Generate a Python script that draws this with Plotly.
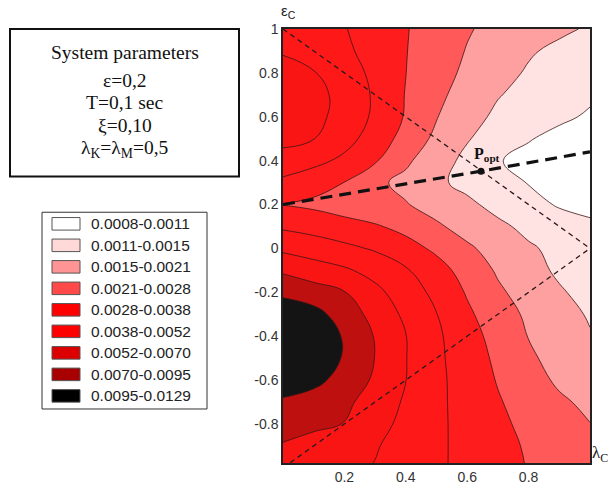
import numpy as np
import plotly.graph_objects as go

# ---------------- data ----------------
lam_c = [0.0, 0.1, 0.2, 0.3, 0.4, 0.5, 0.6, 0.7, 0.8, 0.9, 1.0]
eps_c_top_down = [1.0, 0.9, 0.8, 0.7, 0.6, 0.5, 0.4, 0.3, 0.2, 0.1, 0.0,
                  -0.1, -0.2, -0.3, -0.4, -0.5, -0.6, -0.7, -0.8, -0.9, -1.0]
# cost values, in units of 1e-4, rows from eps_c = 1.0 down to -1.0
cost_e4_top_down = [
    [46.4, 42.9, 38.7, 33.5, 28.5, 25.2, 21.6, 19.2, 17.6, 16.0, 14.6],
    [51.3, 46.4, 40.8, 34.0, 28.3, 24.5, 20.7, 18.3, 15.6, 14.2, 13.2],
    [55.6, 52.9, 45.0, 35.5, 28.1, 23.8, 19.8, 16.9, 14.6, 13.4, 12.4],
    [60.1, 57.4, 47.8, 36.6, 27.7, 22.5, 18.7, 15.3, 13.9, 12.7, 11.5],
    [59.2, 56.5, 47.4, 36.2, 27.4, 21.3, 17.0, 14.3, 13.0, 11.6, 10.7],
    [56.5, 52.4, 43.0, 33.5, 25.5, 19.7, 15.4, 13.2, 11.2, 10.3, 9.5],
    [47.1, 41.8, 35.9, 29.0, 22.2, 17.4, 14.1, 11.2, 10.3, 9.5, 9.1],
    [35.7, 32.0, 27.9, 22.4, 19.5, 15.9, 14.1, 12.0, 10.9, 10.3, 9.7],
    [27.8, 26.6, 24.9, 23.1, 21.4, 18.7, 16.0, 14.0, 12.4, 10.7, 10.1],
    [36.5, 34.5, 31.5, 29.0, 26.0, 22.0, 18.8, 16.0, 14.2, 13.0, 11.8],
    [49.2, 45.1, 41.2, 36.9, 31.7, 26.7, 22.1, 18.7, 15.6, 14.2, 13.0],
    [66.9, 60.6, 54.5, 47.4, 39.5, 31.8, 25.3, 20.3, 17.0, 14.4, 13.4],
    [92.5, 80.8, 71.0, 56.5, 45.0, 35.5, 27.4, 22.1, 18.6, 15.6, 13.8],
    [105.2, 106.9, 83.3, 64.1, 49.2, 38.3, 29.7, 24.1, 20.0, 16.7, 14.7],
    [123.9, 120.5, 92.5, 68.9, 52.4, 40.4, 31.8, 25.6, 20.8, 18.0, 15.3],
    [123.9, 120.5, 92.5, 69.6, 52.5, 40.8, 32.9, 26.7, 22.3, 18.6, 16.5],
    [108.6, 105.2, 85.0, 67.5, 52.2, 41.2, 33.6, 27.6, 23.6, 20.1, 18.0],
    [92.5, 83.5, 74.8, 63.0, 50.2, 40.9, 34.3, 28.8, 25.2, 22.0, 19.8],
    [80.0, 75.0, 69.6, 58.3, 48.4, 40.7, 34.8, 29.9, 26.4, 23.7, 21.1],
    [68.6, 63.5, 58.3, 53.3, 47.0, 40.4, 35.2, 30.8, 27.3, 25.2, 23.1],
    [62.8, 59.0, 55.4, 51.4, 45.7, 40.1, 35.5, 31.5, 27.7, 25.9, 24.2],
]
level_edges = [0.0008, 0.0011, 0.0015, 0.0021, 0.0028, 0.0038, 0.0052, 0.0070, 0.0095, 0.0129]
band_labels = ["0.0008-0.0011", "0.0011-0.0015", "0.0015-0.0021", "0.0021-0.0028",
               "0.0028-0.0038", "0.0038-0.0052", "0.0052-0.0070", "0.0070-0.0095",
               "0.0095-0.0129"]
band_colors_map = ["#FFFFFF", "#FFE3E3", "#FFA0A0", "#FF5959", "#FF1C1C",
                   "#FF1818", "#FA1515", "#BF1010", "#141414"]
band_colors_legend = ["#FFFFFF", "#FFD8D8", "#FF9494", "#FF4848", "#FF0000",
                      "#FF0000", "#DC0000", "#A80000", "#000000"]
params_lines = ["System parameters", "ε=0,2", "T=0,1 sec", "ξ=0,10",
                "λ<sub>K</sub>=λ<sub>M</sub>=0,5"]

line_a_x, line_a_y = [0.0, 1.0], [1.0, 0.0]
line_b_x, line_b_y = [0.0, 1.0], [-1.0, 0.0]
bold_x, bold_y = [0.0, 0.645, 1.0], [0.2, 0.352, 0.44]
popt_x, popt_y = [0.645], [0.352]

xtick_vals = [0.2, 0.4, 0.6, 0.8]
xtick_text = ["0.2", "0.4", "0.6", "0.8"]
ytick_vals = [1.0, 0.8, 0.6, 0.4, 0.2, 0.0, -0.2, -0.4, -0.6, -0.8]
ytick_text = ["1", "0.8", "0.6", "0.4", "0.2", "0", "-0.2", "-0.4", "-0.6", "-0.8"]

# ---------------- figure ----------------
W, H = 608, 497
L, R, T, B = 283, 590, 29, 479


def px(xp):
    return (xp - L) / (R - L)


def py(yp):
    return (B - yp) / (B - T)


z = np.array(cost_e4_top_down[::-1]) * 1e-4
eps_c = eps_c_top_down[::-1]
z_band = np.interp(z, level_edges, np.arange(len(level_edges)))

nb = len(band_colors_map)
colorscale = [[k / (nb - 1), c] for k, c in enumerate(band_colors_map)]

fig = go.Figure()
fig.add_trace(go.Contour(
    x=lam_c, y=eps_c, z=z_band,
    autocontour=False,
    contours=dict(start=1, end=8, size=1, coloring="fill"),
    colorscale=colorscale, showscale=False,
    line=dict(color="#3a1515", width=0.8, smoothing=1.2),
    hoverinfo="skip",
))
dash_thin = "5px,4px"
fig.add_trace(go.Scatter(x=line_a_x, y=line_a_y, mode="lines",
                         line=dict(color="#2a1a1a", width=1.3, dash=dash_thin), hoverinfo="skip"))
fig.add_trace(go.Scatter(x=line_b_x, y=line_b_y, mode="lines",
                         line=dict(color="#2a1a1a", width=1.3, dash=dash_thin), hoverinfo="skip"))
fig.add_trace(go.Scatter(x=bold_x, y=bold_y, mode="lines",
                         line=dict(color="#111111", width=3.2, dash="12px,7px"), hoverinfo="skip"))
fig.add_trace(go.Scatter(x=popt_x, y=popt_y, mode="markers",
                         marker=dict(color="#111111", size=7), hoverinfo="skip"))

shapes = []
annotations = []

# system parameters box
shapes.append(dict(type="rect", xref="paper", yref="paper",
                   x0=px(10), x1=px(239), y0=py(182), y1=py(29),
                   line=dict(color="#111111", width=2), fillcolor="white"))
param_y = [53, 82, 105, 129, 153]
for txt, yy in zip(params_lines, param_y):
    annotations.append(dict(xref="paper", yref="paper", x=px(124.5), y=py(yy),
                            text=txt, showarrow=False, xanchor="center", yanchor="middle",
                            font=dict(family="Liberation Serif, Times New Roman, serif",
                                      size=19.5, color="#111111")))

# legend box
shapes.append(dict(type="rect", xref="paper", yref="paper",
                   x0=px(42), x1=px(207), y0=py(423), y1=py(219),
                   line=dict(color="#333333", width=1), fillcolor="white"))
for k, (lab, col) in enumerate(zip(band_labels, band_colors_legend)):
    yc = 231 + k * 22.3
    shapes.append(dict(type="rect", xref="paper", yref="paper",
                       x0=px(52), x1=px(80), y0=py(yc + 6.5), y1=py(yc - 6.5),
                       line=dict(color="#555555", width=1), fillcolor=col))
    annotations.append(dict(xref="paper", yref="paper", x=px(89), y=py(yc),
                            text=lab, showarrow=False, xanchor="left", yanchor="middle",
                            font=dict(family="Liberation Sans, Arial, sans-serif",
                                      size=15.5, color="#222222")))

# axis labels
annotations.append(dict(xref="paper", yref="paper", x=px(279), y=py(11),
                        text="ε<sub>C</sub>", showarrow=False, xanchor="left", yanchor="middle",
                        font=dict(family="Liberation Sans, Arial, sans-serif", size=15, color="#222")))
annotations.append(dict(xref="paper", yref="paper", x=px(590), y=py(470),
                        text="λ<sub>C</sub>", showarrow=False, xanchor="left", yanchor="middle",
                        font=dict(family="Liberation Serif, Times New Roman, serif", size=17, color="#222")))
# P_opt label
annotations.append(dict(x=popt_x[0], y=popt_y[0], xref="x", yref="y",
                        text="<b>P<sub>opt</sub></b>", showarrow=False,
                        xanchor="center", yanchor="bottom", xshift=6, yshift=5,
                        font=dict(family="Liberation Serif, Times New Roman, serif", size=16,
                                  color="#111111")))

fig.update_layout(
    width=W, height=H,
    margin=dict(l=L, r=W - R, t=T, b=H - B, pad=0),
    paper_bgcolor="white", plot_bgcolor="white",
    showlegend=False,
    shapes=shapes, annotations=annotations,
    xaxis=dict(range=[0, 1], tickvals=xtick_vals, ticktext=xtick_text, ticks="",
               showgrid=False, zeroline=False, showline=True, mirror=True,
               linecolor="#222222", linewidth=1.5,
               tickfont=dict(family="Liberation Sans, Arial, sans-serif", size=14, color="#333")),
    yaxis=dict(range=[-0.978, 1.0], tickvals=ytick_vals, ticktext=ytick_text, ticks="",
               showgrid=False, zeroline=False, showline=True, mirror=True,
               linecolor="#222222", linewidth=1.5,
               tickfont=dict(family="Liberation Sans, Arial, sans-serif", size=14, color="#333")),
)

fig.write_html("out.html")
